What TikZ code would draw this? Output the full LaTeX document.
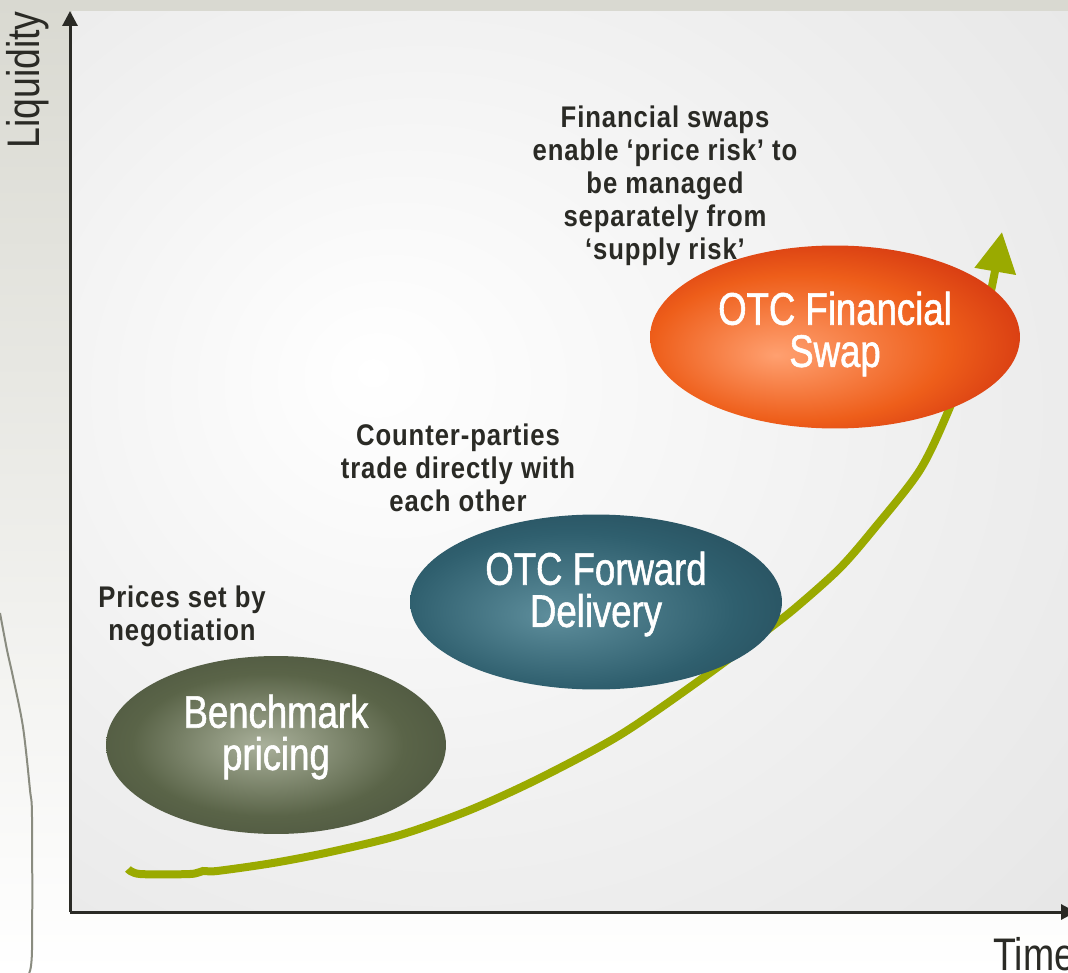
\documentclass[tikz,border=0pt]{standalone}
\usepackage{fontspec}
\setmainfont[FakeStretch=0.82]{Liberation Sans}
\newfontfamily\bubblefont[FakeStretch=0.8,FakeBold=1.2]{Liberation Sans}
\newfontfamily\notefont[FakeStretch=0.86,LetterSpace=3]{Liberation Sans}
\usepackage{tikz}
\usetikzlibrary{shapes,arrows.meta,positioning,calc}
\usepackage{xcolor}

\definecolor{pagetop}{HTML}{D9D9D1}
\definecolor{axisgray}{HTML}{2A2A25}
\definecolor{trendgreen}{HTML}{9AAA00}
\definecolor{leftline}{HTML}{8A8C80}
\definecolor{plotmid}{HTML}{EFEFEF}
\definecolor{plotedge}{HTML}{D6D6D6}
\definecolor{benchhi}{HTML}{A9B09A}
\definecolor{benchmid}{HTML}{5A6448}
\definecolor{benchdark}{HTML}{3C4334}
\definecolor{fwdhi}{HTML}{5E8E9C}
\definecolor{fwdmid}{HTML}{2F5F6E}
\definecolor{fwddark}{HTML}{1E3C4A}
\definecolor{swaphi}{HTML}{FFA070}
\definecolor{swapmid}{HTML}{EE5E1A}
\definecolor{swapdark}{HTML}{C0180A}

\pgfdeclareradialshading{plotglow}{\pgfpoint{-10bp}{5bp}}{color(0bp)=(white);color(25bp)=(plotmid);color(70bp)=(plotedge)}
\pgfdeclareradialshading{benchball}{\pgfpoint{-2bp}{0bp}}{color(0bp)=(benchhi);color(20bp)=(benchmid);color(45bp)=(benchdark);color(50bp)=(benchdark)}
\pgfdeclareradialshading{fwdball}{\pgfpoint{-6bp}{-4bp}}{color(0bp)=(fwdhi);color(22bp)=(fwdmid);color(45bp)=(fwddark);color(50bp)=(fwddark)}
\pgfdeclareradialshading{swapball}{\pgfpoint{-8bp}{-5bp}}{color(0bp)=(swaphi);color(20bp)=(swapmid);color(40bp)=(swapdark);color(50bp)=(swapdark)}

\tikzstyle{axis} = [line width=0.06cm, draw=axisgray, -{Triangle[width=0.3cm,length=0.3cm]}]
\tikzstyle{trend} = [line width=0.16cm, draw=trendgreen, -{Triangle[width=0.8cm,length=0.8cm]}]
\tikzstyle{bubble} = [ellipse, inner sep=0pt]
\tikzstyle{bubbletext} = [text=white, align=center, font=\bubblefont\fontsize{26}{24}\selectfont]
\tikzstyle{note} = [align=center, text=axisgray, font=\notefont\bfseries\fontsize{17}{18.8}\selectfont]
\tikzstyle{axislabel} = [text=axisgray, font=\fontsize{26}{30}\selectfont]

\begin{document}
\begin{tikzpicture}[x=0.02cm,y=-0.02cm]
\useasboundingbox (0,0) rectangle (1068,973);
% background
\shade[top color=pagetop, bottom color=white] (0,0) rectangle (1068,973);
\shade[shading=plotglow] (72,12) rectangle (1068,912);
\draw[leftline, line width=0.04cm] plot[smooth] coordinates {(0,613) (7,650) (13,677) (23,727) (30,790) (32,817) (32,950) (29,973)};

% axes
\coordinate (origin) at (70,912);
\coordinate (ytip) at (70,11);
\coordinate (xtip) at (1076,912);
\draw[axis] (origin) -- (ytip);
\draw[axis] (origin) -- (xtip);
\node[axislabel, rotate=90] (liquidity) at (28,80) {Liquidity};
\node[axislabel, anchor=base west] (time) at (987,970) {Time};

% trend line
\draw[trend] plot[smooth, tension=0.5] coordinates {(128,869) (140,874) (190,874) (203,871) (217,871) (273,863) (330,852) (400,835) (470,810) (540,778) (620,735) (700,680) (770,628) (800,604) (840,568) (873,530) (920,470) (950,407) (975,340) (990,295) (1002,232)};

% stages
\node[bubble, shading=benchball, minimum width=6.8cm, minimum height=3.56cm] (bench) at (276,745) {};
\node[bubble, shading=fwdball, minimum width=7.44cm, minimum height=3.5cm] (forward) at (596,602) {};
\node[bubble, shading=swapball, minimum width=7.4cm, minimum height=3.66cm] (swap) at (835,337) {};
\node[bubbletext] (benchtext) at ([yshift=0.16cm]bench.center) {Benchmark\\pricing};
\node[bubbletext] (forwardtext) at ([yshift=0.16cm]forward.center) {OTC Forward\\Delivery};
\node[bubbletext] (swaptext) at ([yshift=0.06cm]swap.center) {OTC Financial\\Swap};

% notes
\node[note] (benchnote) at (182,616) {Prices set by\\negotiation};
\node[note] (forwardnote) at (458,468) {Counter-parties\\trade directly with\\each other};
\node[note] (swapnote) at (665,186) {Financial swaps\\enable ‘price risk’ to\\be managed\\separately from\\‘supply risk’};
\end{tikzpicture}
\end{document}
